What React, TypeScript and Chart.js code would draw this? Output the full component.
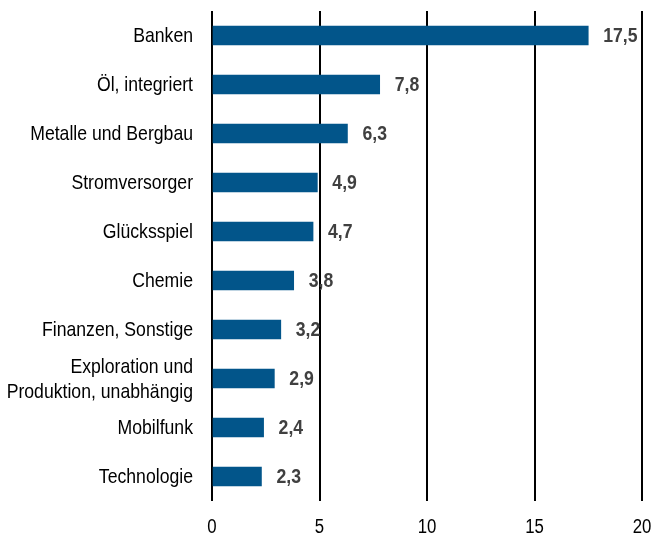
import React, { useEffect, useRef } from "react";
import { Chart, registerables } from "chart.js";

Chart.register(...registerables);

const categories: (string | string[])[] = [
  "Banken",
  "Öl, integriert",
  "Metalle und Bergbau",
  "Stromversorger",
  "Glücksspiel",
  "Chemie",
  "Finanzen, Sonstige",
  ["Exploration und", "Produktion, unabhängig"],
  "Mobilfunk",
  "Technologie",
];
const values = [17.5, 7.8, 6.3, 4.9, 4.7, 3.8, 3.2, 2.9, 2.4, 2.3];
const xTicks = [0, 5, 10, 15, 20];

const FONT = "'Liberation Sans', Arial, sans-serif";
const SQUEEZE = 0.84;

function narrowText(
  ctx: CanvasRenderingContext2D,
  text: string,
  x: number,
  y: number,
  align: CanvasTextAlign,
  font: string,
  color: string
) {
  ctx.save();
  ctx.translate(x, y);
  ctx.scale(SQUEEZE, 1);
  ctx.font = font;
  ctx.fillStyle = color;
  ctx.textAlign = align;
  ctx.textBaseline = "middle";
  ctx.fillText(text, 0, 0);
  ctx.restore();
}

const textPlugin = {
  id: "narrowTexts",
  afterDatasetsDraw(chart: any) {
    const ctx = chart.ctx as CanvasRenderingContext2D;
    const meta = chart.getDatasetMeta(0);
    const xScale = chart.scales.x;
    const yScale = chart.scales.y;
    // value labels
    meta.data.forEach((bar: any, i: number) => {
      const txt = values[i].toFixed(1).replace(".", ",");
      narrowText(ctx, txt, bar.x + 15, bar.y + 1, "left", `bold 21px ${FONT}`, "#404040");
    });
    // category labels
    categories.forEach((cat, i) => {
      const yc = yScale.getPixelForTick(i);
      const lines = Array.isArray(cat) ? cat : [cat];
      const lh = 25;
      const start = yc - ((lines.length - 1) * lh) / 2;
      lines.forEach((ln, j) => {
        narrowText(ctx, ln, yScale.right - 19, start + j * lh + 1, "right", `21px ${FONT}`, "#000000");
      });
    });
    // x tick labels
    xTicks.forEach((v) => {
      narrowText(ctx, String(v), xScale.getPixelForValue(v), 527, "center", `20px ${FONT}`, "#000000");
    });
  },
};

export default function App() {
  const ref = useRef<HTMLCanvasElement>(null);
  useEffect(() => {
    const chart = new Chart(ref.current!, {
      type: "bar",
      data: {
        labels: categories,
        datasets: [
          {
            data: values,
            backgroundColor: "#02558A",
            barThickness: 19,
          },
        ],
      },
      options: {
        indexAxis: "y",
        animation: false,
        responsive: false,
        maintainAspectRatio: false,
        layout: { padding: { top: 11, right: 9, left: 0, bottom: 0 } },
        plugins: { legend: { display: false }, tooltip: { enabled: false } },
        scales: {
          x: {
            min: 0,
            max: 20,
            afterBuildTicks: (s: any) => {
              s.ticks = xTicks.map((v) => ({ value: v }));
            },
            afterFit: (s: any) => {
              s.height = 34;
              s.paddingLeft = 0;
              s.paddingRight = 0;
            },
            grid: { color: "#000000", lineWidth: 2, drawTicks: false },
            border: { display: false },
            ticks: { display: false, stepSize: 5 },
          },
          y: {
            afterFit: (s: any) => {
              s.width = 212;
              s.paddingTop = 0;
              s.paddingBottom = 0;
            },
            grid: { display: false, drawTicks: false },
            border: { display: false },
            ticks: { display: false, autoSkip: false },
          },
        },
      },
      plugins: [textPlugin],
    });
    return () => chart.destroy();
  }, []);
  return (
    <canvas
      ref={ref}
      width={651}
      height={535}
      style={{ position: "fixed", left: 0, top: 0, width: 651, height: 535 }}
    />
  );
}
